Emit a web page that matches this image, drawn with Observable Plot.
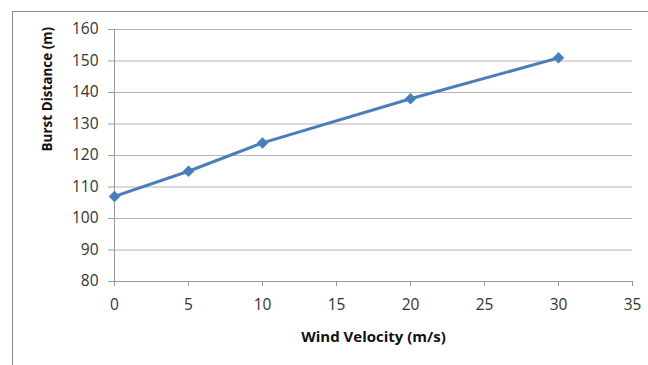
<!DOCTYPE html>
<html><head><meta charset="utf-8">
<script src="https://cdn.jsdelivr.net/npm/d3@7"></script>
<script src="https://cdn.jsdelivr.net/npm/@observablehq/plot@0.6"></script>
<style>
body{margin:0;background:#fff;}
#wrap{position:relative;width:648px;height:365px;overflow:hidden;}
#frame{position:absolute;left:12px;top:11px;width:700px;height:400px;border:1.5px solid #8c8c8c;box-sizing:border-box;}
#chart{position:absolute;left:0;top:0;}
</style></head>
<body><div id="wrap"><div id="frame"></div><div id="chart"></div></div>
<script>
const windVelocity = [0, 5, 10, 20, 30];
const burstDistance = [107, 115, 124, 138, 151];
const xTicks = [0, 5, 10, 15, 20, 25, 30, 35];
const yTicks = [80, 90, 100, 110, 120, 130, 140, 150, 160];

const data = windVelocity.map((v, i) => ({x: v, y: burstDistance[i]}));

const chart = Plot.plot({
  width: 648, height: 365,
  marginLeft: 114, marginRight: 16, marginTop: 29, marginBottom: 84,
  style: {fontFamily: "'Open Sans', sans-serif", fontSize: "15.5px", color: "#333", background: "transparent"},
  x: {domain: [0, 35], ticks: xTicks, label: null},
  y: {domain: [80, 160], ticks: yTicks, label: null},
  marks: [
    Plot.ruleY(yTicks.filter(d => d > 80), {stroke: "#b4b4b4", strokeWidth: 1, strokeOpacity: 1}),
    Plot.axisY({ticks: yTicks, tickSize: 6, tickPadding: 10, stroke: "#999", label: null}),
    Plot.axisX({ticks: xTicks, tickSize: 5, tickPadding: 12, stroke: "#999", label: null}),
    Plot.ruleX([0], {stroke: "#999"}),
    Plot.ruleY([80], {stroke: "#999"}),
    Plot.line(data, {x: "x", y: "y", stroke: "#4a7ebb", strokeWidth: 3}),
    Plot.dot(data, {x: "x", y: "y", symbol: "square", rotate: 45, r: 4.4, fill: "#4a7ebb", stroke: "#4a7ebb", strokeWidth: 0.5}),
    Plot.text(["Wind Velocity (m/s)"], {frameAnchor: "bottom", dy: 60, text: d => d, fontWeight: "bold", fontSize: 15, fill: "#111"}),
    Plot.text(["Burst Distance (m)"], {frameAnchor: "left", dx: -67, dy: -4, rotate: -90, text: d => d, fontWeight: "bold", fontSize: 13.5, fill: "#111"})
  ]
});
document.getElementById("chart").appendChild(chart);
</script></body></html>
